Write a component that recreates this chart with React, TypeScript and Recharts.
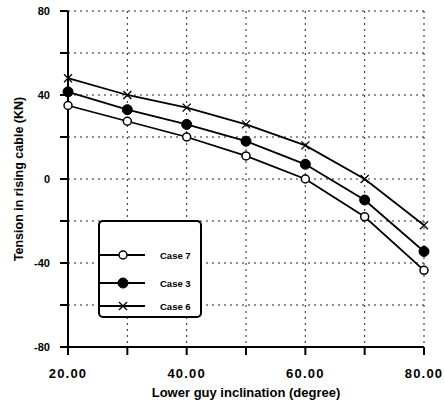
import React from 'react';
import { LineChart, Line, XAxis, YAxis, CartesianGrid, Legend } from 'recharts';

const inclination = [20, 30, 40, 50, 60, 70, 80];
const case7 = [35, 27.5, 20, 11, 0, -18, -43.5];
const case3 = [41.5, 33, 26, 18, 7, -10, -34.5];
const case6 = [48, 40, 34, 26, 16, 0, -22];
const xTicks = [20, 30, 40, 50, 60, 70, 80];
const yTicks = [-80, -60, -40, -20, 0, 20, 40, 60, 80];
const seriesNames = ['Case 7', 'Case 3', 'Case 6'];

const data = inclination.map((x, i) => ({ x, c7: case7[i], c3: case3[i], c6: case6[i] }));

const FONT = '"Liberation Sans", Arial, sans-serif';

const OpenDot = (p: any) => (
  <circle key={`o${p.index}`} cx={p.cx} cy={p.cy} r={4} fill="#fff" stroke="#000" strokeWidth={1.5} />
);
const FilledDot = (p: any) => (
  <circle key={`f${p.index}`} cx={p.cx} cy={p.cy} r={5} fill="#000" stroke="#000" strokeWidth={1} />
);
const CrossDot = (p: any) => (
  <g key={`x${p.index}`}>
    <line x1={p.cx - 4} y1={p.cy - 4} x2={p.cx + 4} y2={p.cy + 4} stroke="#000" strokeWidth={1.3} />
    <line x1={p.cx - 4} y1={p.cy + 4} x2={p.cx + 4} y2={p.cy - 4} stroke="#000" strokeWidth={1.3} />
  </g>
);

const markerFor = (key: string, cx: number, cy: number) => {
  if (key === 'c7') return <OpenDot cx={cx} cy={cy} index={0} />;
  if (key === 'c3') return <FilledDot cx={cx} cy={cy} index={0} />;
  return <CrossDot cx={cx} cy={cy} index={0} />;
};

const LegendBox = (props: any) => {
  const payload = [...(props.payload || [])].sort(
    (a: any, b: any) => seriesNames.indexOf(a.value) - seriesNames.indexOf(b.value)
  );
  const rows = [35, 63, 86];
  return (
    <div
      style={{
        width: 104,
        height: 98,
        border: '2px solid #000',
        borderRadius: 5,
        boxSizing: 'border-box',
        background: '#fff',
        position: 'relative',
        fontFamily: FONT,
      }}
    >
      {payload.map((e: any, i: number) => (
        <svg
          key={e.value}
          width={100}
          height={16}
          style={{ position: 'absolute', left: 0, top: rows[i] - 8 - 2 }}
        >
          <line x1={0} y1={8} x2={45} y2={8} stroke="#000" strokeWidth={1.8} />
          {markerFor(e.dataKey, 23, 8)}
          <text x={60} y={11.5} fontSize={9.5} fontWeight="bold" fontFamily={FONT} fill="#000">
            {e.value}
          </text>
        </svg>
      ))}
    </div>
  );
};

export default function App() {
  return (
    <div>
      <style>{`body{margin:0}`}</style>
      <LineChart width={445} height={406} data={data} margin={{ top: 11, right: 21, left: 0, bottom: 9 }}>
        <CartesianGrid stroke="#222" strokeDasharray="2 4" strokeWidth={1} />
        <XAxis
          dataKey="x"
          type="number"
          domain={[20, 80]}
          ticks={xTicks}
          tickFormatter={(v: number) => (v % 20 === 0 ? v.toFixed(2) : '')}
          height={50}
          tickSize={8}
          tickMargin={14}
          axisLine={{ stroke: '#000', strokeWidth: 2 }}
          tickLine={{ stroke: '#000', strokeWidth: 2 }}
          tick={{ fill: '#000', fontSize: 13, fontWeight: 'bold', fontFamily: FONT, letterSpacing: 1.2 }}
          label={{
            value: 'Lower guy inclination (degree)',
            position: 'insideBottom',
            offset: 0,
            style: { fill: '#000', fontSize: 13, fontWeight: 'bold', fontFamily: FONT },
          }}
        />
        <YAxis
          type="number"
          domain={[-80, 80]}
          ticks={yTicks}
          tickFormatter={(v: number) => (v % 40 === 0 ? String(v) : '')}
          width={68}
          tickSize={8}
          tickMargin={10}
          axisLine={{ stroke: '#000', strokeWidth: 2 }}
          tickLine={{ stroke: '#000', strokeWidth: 2 }}
          tick={{ fill: '#000', fontSize: 11, fontWeight: 'bold', fontFamily: FONT }}
          label={{
            value: 'Tension in rising cable (KN)',
            angle: -90,
            position: 'insideLeft',
            offset: 19,
            style: { textAnchor: 'middle', fill: '#000', fontSize: 12.5, fontWeight: 'bold', fontFamily: FONT },
          }}
        />
        <Legend
          layout="vertical"
          align="center"
          verticalAlign="middle"
          itemSorter={null as any}
          content={<LegendBox />}
          wrapperStyle={{ left: 98, top: 220, width: 104, height: 98 }}
        />
        <Line name={seriesNames[0]} dataKey="c7" stroke="#000" strokeWidth={1.8} dot={OpenDot} isAnimationActive={false} />
        <Line name={seriesNames[1]} dataKey="c3" stroke="#000" strokeWidth={1.8} dot={FilledDot} isAnimationActive={false} />
        <Line name={seriesNames[2]} dataKey="c6" stroke="#000" strokeWidth={1.8} dot={CrossDot} isAnimationActive={false} />
      </LineChart>
    </div>
  );
}
